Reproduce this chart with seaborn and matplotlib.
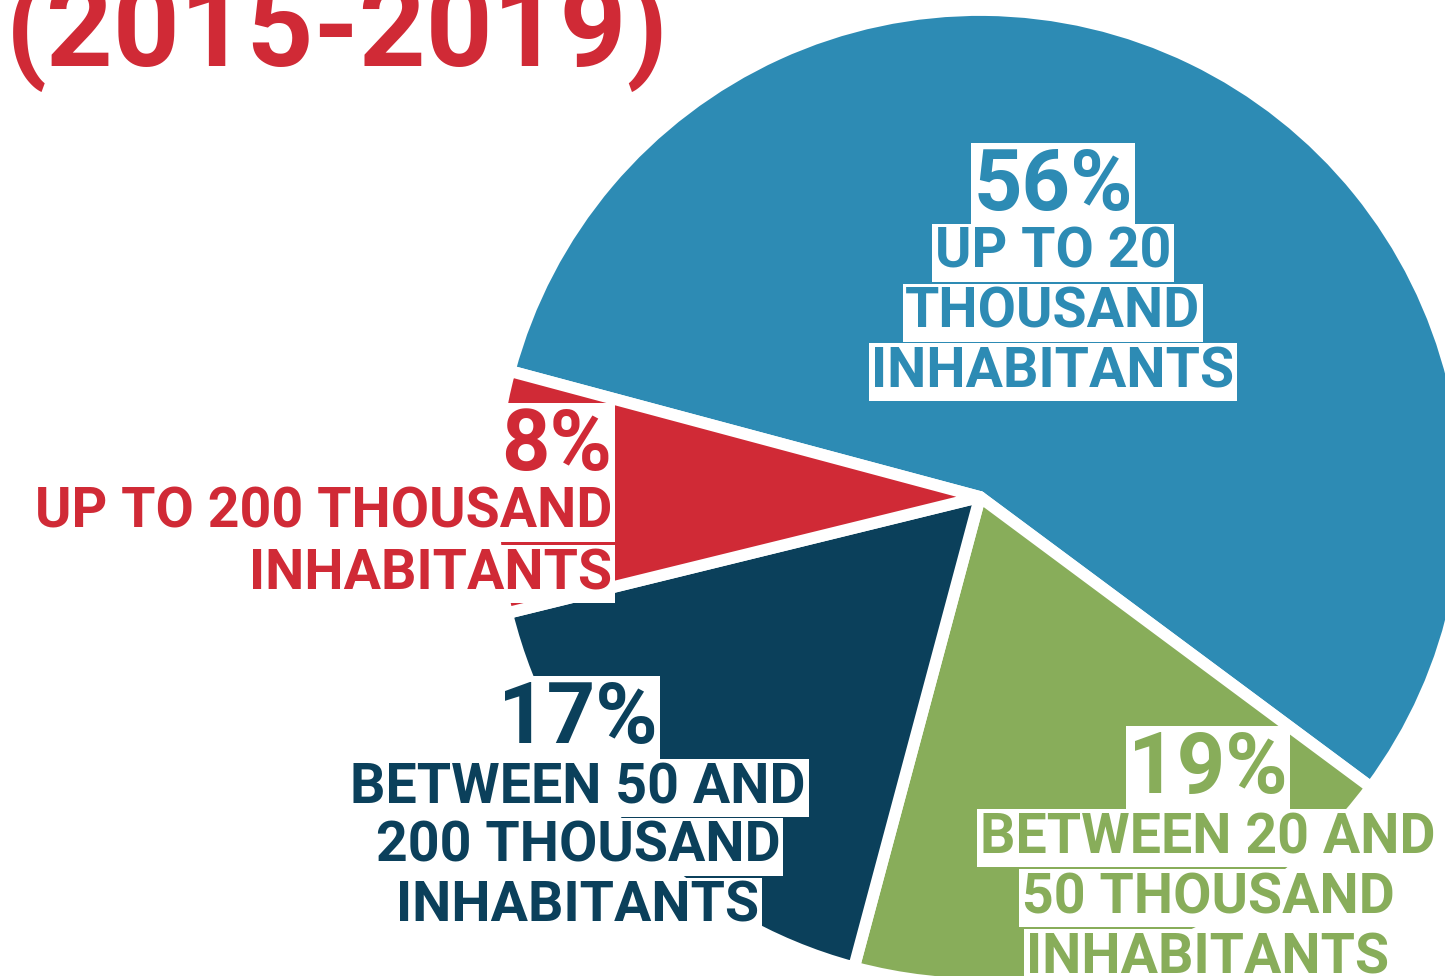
import matplotlib
matplotlib.use("Agg")
import matplotlib.pyplot as plt
import seaborn as sns

# shares of municipalities by population size (2015-2019)
sizes = [56, 19, 17, 8]
pct_labels = ["56%", "19%", "17%", "8%"]
desc_labels = [
    ["UP TO 20", "THOUSAND", "INHABITANTS"],
    ["BETWEEN 20 AND", "50 THOUSAND", "INHABITANTS"],
    ["BETWEEN 50 AND", "200 THOUSAND", "INHABITANTS"],
    ["UP TO 200 THOUSAND", "INHABITANTS"],
]
colors = ["#2d8bb4", "#88ad5a", "#0b405b", "#d02a36"]
title = "(2015-2019)"

W, H = 1445, 976

sns.set_style("white")
plt.rcParams["font.family"] = ["Roboto", "DejaVu Sans"]

fig = plt.figure(figsize=(W / 100, H / 100), dpi=100)
ax = fig.add_axes([0, 0, 1, 1])

ax.pie(sizes, colors=colors, startangle=165, counterclock=False,
       center=(980, H - 497), radius=487,
       wedgeprops=dict(edgecolor="white", linewidth=8.5, joinstyle="round"))
ax.set_xlim(0, W)
ax.set_ylim(0, H)
ax.set_aspect("equal")
ax.axis("off")

# label placement in pixels from the top: x, align, percent baseline, line baselines
label_pos = [
    (1053, "center", 210, [268, 328, 387]),
    (1208, "center", 793, [853, 913, 973]),
    (578, "center", 743, [803, 862, 922]),
    (612, "right", 470, [528, 589]),
]

box = dict(facecolor="white", edgecolor="none", pad=2)
for pct, lines, col, (x, ha, yp, ys) in zip(pct_labels, desc_labels, colors, label_pos):
    ax.text(x, H - yp, pct, ha=ha, va="baseline", fontsize=61,
            fontweight="bold", color=col, bbox=box)
    for line, y in zip(lines, ys):
        ax.text(x, H - y, line, ha=ha, va="baseline", fontsize=40,
                fontweight="bold", color=col, bbox=box)

ax.text(6, H - 66, title, ha="left", va="baseline", fontsize=84,
        fontweight="bold", color="#d02a36")

fig.savefig("out.png", dpi=100)
